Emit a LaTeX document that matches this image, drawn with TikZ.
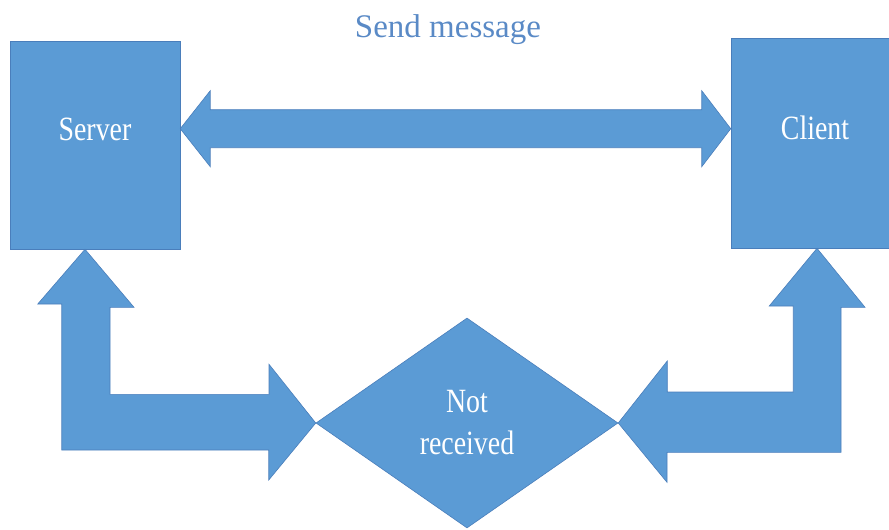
\documentclass[tikz,border=0pt]{standalone}
\usepackage{fontspec}
\setmainfont{Liberation Serif}
\newfontfamily\tnr{Liberation Serif}
\usetikzlibrary{calc, positioning, shapes.geometric}

\definecolor{boxblue}{HTML}{5B9BD5}
\definecolor{edgeblue}{HTML}{4A7EBB}
\definecolor{titleblue}{HTML}{5A8AC6}

% node text is condensed, so sizes are divided by 0.82
\tikzset{
  block/.style={fill=boxblue,draw=edgeblue,line width=0.6pt},
  boxtext/.style={text=white,font=\tnr\fontsize{34}{42}\selectfont,xscale=0.82},
}

\begin{document}
\begin{tikzpicture}[x=1pt,y=-1pt]
\useasboundingbox (0,0) rectangle (889,530);

% boxes
\node[block,rectangle,minimum width=207.3pt,minimum height=208pt,inner sep=0pt,
  boxtext,text depth=32pt] (server) at (95,145) {Server};
\node[block,rectangle,minimum width=204.9pt,minimum height=210pt,inner sep=0pt,
  boxtext,text depth=30pt] (client) at (815,143) {Client};
\node[block,diamond,minimum width=368.3pt,minimum height=210pt,inner sep=0pt,
  boxtext,align=center] (notrecv) at (467,423) {Not\\received};
\node[text=titleblue,font=\tnr\fontsize{33}{40}\selectfont] (title) at (448,30) {Send message};

% send message, both ways
\coordinate (sendL) at ($(server.north east)+(0,88)$);
\coordinate (sendR) at ($(client.north west)+(0,91)$);
\draw[block] (sendL) -- ++(30,-38) -- ++(0,19) -- ($(sendR)+(-29,-19)$)
  -- ++(0,-19) -- (sendR) -- ++(-29,38) -- ++(0,-19)
  -- ($(sendL)+(30,19)$) -- ++(0,19) -- cycle;

% server side, bent arrow
\coordinate (srvTip) at ($(server.south)+(-10,0)$);
\draw[block] (srvTip) -- ++(49,58) -- ++(-24,0) -- ++(0,87) -- ++(159,0)
  -- ++(0,-30) -- (notrecv.west) -- ++(-47,57) -- ++(0,-30) -- ++(-207,0)
  -- ++(0,-146) -- ++(-24,0) -- cycle;

% client side, bent arrow
\coordinate (cltTip) at ($(client.south)+(2,0)$);
\draw[block] (cltTip) -- ++(48,59) -- ++(-24,0) -- ++(0,145) -- ++(-174,0)
  -- ++(0,30) -- (notrecv.east) -- ++(49,-62) -- ++(0,31) -- ++(126,0)
  -- ++(0,-86) -- ++(-24,0) -- cycle;
\end{tikzpicture}
\end{document}
